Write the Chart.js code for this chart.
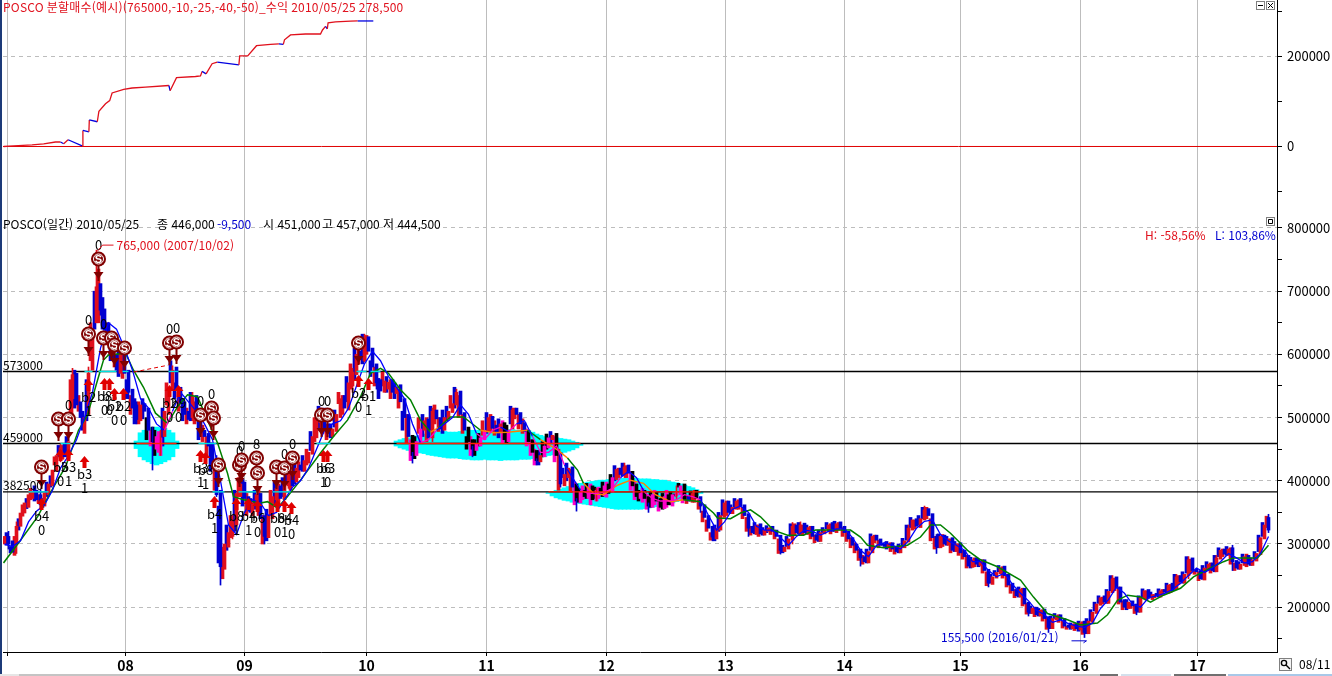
<!DOCTYPE html>
<html lang="ko">
<head>
<meta charset="utf-8">
<title>POSCO</title>
<script src="https://cdn.jsdelivr.net/npm/chart.js@4"></script>
<style>
    html, body { margin: 0; padding: 0; background: #fff; overflow: hidden; }
    #wrap { position: relative; width: 1332px; height: 676px; }
    canvas { position: absolute; left: 0; }
    #profit { top: 0; }
    #price { top: 217px; }
    .edge { position: absolute; left: 0; top: 0; width: 2px; height: 676px; background: #1c3a78; }
    .strip { position: absolute; top: 674px; height: 2px; }
</style>
</head>
<body>
<div id="wrap">
    <canvas id="profit" width="1332" height="217"></canvas>
    <canvas id="price" width="1332" height="459"></canvas>
    <div class="edge"></div>
    <div class="strip" style="left:0;width:1100px;background:#c4c4c4"></div>
    <div class="strip" style="left:0;width:19px;background:#e6e6e6"></div>
    <div class="strip" style="left:1100px;width:18px;background:#707070"></div>
    <div class="strip" style="left:1121px;width:50px;background:#d4e0ec"></div>
    <div class="strip" style="left:1174px;width:52px;background:#707070"></div>
    <div class="strip" style="left:1228px;width:104px;background:#a8c8e8"></div>
</div>
<script>
// prices are in thousand won, one candle every 4 px
const opens = [
    300,312,305,300,328,349,358,372,385,378,
    360,378,392,415,436,458,436,530,570,525,
    475,505,575,650,712,672,650,628,600,570,
    605,575,545,520,495,522,515,485,450,440,
    470,505,545,580,548,525,510,500,535,505,
    480,475,458,435,385,260,295,312,330,375,
    398,375,345,362,380,345,310,340,370,392,
    370,392,412,398,425,415,428,442,468,492,
    515,490,470,478,500,535,512,550,568,605,
    590,628,610,585,560,540,545,560,538,552,
    530,505,472,440,460,480,498,468,512,500,
    480,498,508,520,542,508,485,465,448,455,
    465,478,502,488,476,492,462,482,515,508,
    492,480,465,448,430,438,452,465,475,445,
    392,405,422,395,365,385,372,392,368,388,
    376,395,382,402,420,408,425,415,395,372,
    385,375,358,382,372,356,378,360,376,378,
    395,375,366,385,375,362,345,328,308,322,
    342,368,348,355,372,362,348,328,315,332,
    314,320,328,322,314,288,292,306,330,315,
    333,315,328,315,304,316,320,334,318,335,
    328,320,310,300,292,280,270,286,314,308,
    300,294,302,296,286,294,303,322,340,326,
    338,356,348,312,294,314,298,310,288,302,
    290,282,263,278,266,275,260,236,246,253,
    265,252,238,228,216,230,208,190,200,186,
    197,185,166,180,188,182,172,166,174,164,
    178,158,176,190,203,218,206,223,248,232,
    212,198,210,205,192,213,228,212,222,216,
    228,222,238,228,250,238,250,278,260,258,
    243,260,270,256,276,292,282,294,274,260,
    266,282,266,273,283,308,342
]
const closes = [
    312,300,287,328,349,365,378,382,370,362,
    381,395,417,440,452,438,462,568,520,500,
    500,570,640,707,670,638,620,595,575,602,
    570,540,515,497,520,510,480,462,470,468,
    510,548,575,545,522,505,497,533,500,476,
    470,455,430,378,264,300,318,335,380,395,
    372,358,365,378,340,312,345,375,388,372,
    398,410,392,420,417,432,445,470,497,510,
    483,475,482,505,530,515,555,572,600,592,
    623,605,580,555,542,558,556,540,548,525,
    500,470,440,462,482,495,468,510,498,482,
    500,510,522,540,505,480,462,450,458,468,
    480,500,483,478,490,465,480,512,505,490,
    478,462,445,432,440,455,468,472,440,395,
    410,420,390,368,382,375,390,370,385,378,
    392,380,405,418,410,422,412,392,375,380,
    372,360,378,368,358,375,362,378,382,392,
    370,368,380,372,360,342,325,311,325,345,
    365,350,358,368,360,345,325,318,330,316,
    322,325,320,312,290,295,308,328,318,330,
    318,326,312,306,318,322,330,320,332,325,
    318,308,298,290,278,272,288,312,306,298,
    296,300,292,288,296,305,325,338,328,340,
    354,345,310,296,312,300,308,290,300,286,
    280,265,275,268,272,258,238,248,255,262,
    250,235,226,218,228,205,192,198,188,195,
    182,168,182,186,180,170,168,172,166,175,
    160,178,192,205,215,208,225,245,230,208,
    200,208,202,194,215,226,214,220,218,226,
    224,235,226,248,240,252,275,258,256,245,
    262,268,258,278,290,284,292,272,262,268,
    280,268,275,285,310,330,322
]

// the sessions that fall between two of the candles above
const midOpens = [
    318,296,282,340,344,372,370,392,365,372,
    398,408,425,456,434,470,500,575,510,510,
    560,590,700,650,690,615,630,580,612,562,
    560,505,530,490,530,500,455,480,445,515,
    520,590,555,510,530,490,540,490,510,462,
    440,460,385,360,245,330,310,385,375,402,
    345,372,385,345,300,355,345,398,365,405,
    420,385,428,405,440,425,478,462,518,475,
    465,490,512,522,505,565,545,610,585,632,
    600,590,550,562,550,565,530,555,515,510,
    460,432,470,475,505,462,518,490,478,512,
    518,515,548,500,475,470,440,465,475,472,
    508,478,472,498,460,488,518,498,482,475,
    455,440,425,448,462,474,478,430,385,420,
    428,382,362,388,370,396,362,390,372,398,
    374,410,424,405,428,405,385,370,385,366,
    355,383,362,352,380,358,383,378,396,365,
    364,384,366,355,335,320,306,330,350,370,
    345,362,372,355,340,320,314,334,312,326,
    329,315,308,285,298,312,332,314,334,314,
    330,308,302,322,326,334,316,336,322,312,
    304,294,286,274,268,292,316,302,294,300,
    304,288,284,300,309,330,342,324,345,358,
    340,305,292,316,296,312,286,304,282,276,
    262,279,264,276,254,234,252,258,266,246,
    232,222,215,232,202,189,202,185,198,178,
    165,186,190,176,167,165,175,163,178,157,
    182,196,208,218,205,228,250,226,205,196,
    212,198,190,218,229,211,224,215,229,220,
    238,223,252,236,256,280,254,252,242,266,
    272,254,282,294,280,296,268,258,272,284,
    264,278,288,314,334,326
]
const midCloses = [
    298,286,312,322,362,356,388,368,378,358,
    375,390,438,438,456,438,560,515,535,480,
    495,650,640,735,640,650,590,600,565,610,
    530,535,490,525,498,465,480,440,478,455,
    555,555,530,540,495,515,495,525,465,488,
    470,415,425,270,295,290,345,320,405,360,
    380,350,355,390,345,305,385,360,395,375,
    395,415,395,430,415,450,448,500,480,505,
    490,468,485,540,535,525,585,560,615,585,
    630,565,580,530,572,540,560,530,545,480,
    505,465,435,500,470,500,480,520,500,475,
    495,535,515,535,505,450,470,440,455,495,
    475,505,495,468,495,460,490,515,505,498,
    482,465,450,425,438,450,460,470,450,405,
    400,418,398,366,392,372,395,372,390,375,
    398,382,400,420,408,424,415,398,368,388,
    378,358,385,370,355,385,362,376,390,385,
    376,368,385,370,352,338,318,305,320,345,
    368,348,356,370,358,342,328,316,330,314,
    318,326,322,308,286,296,312,332,316,330,
    316,328,314,304,318,324,332,320,334,326,
    320,310,302,292,282,270,290,314,306,298,
    292,302,296,286,296,306,326,338,330,340,
    358,340,312,294,315,298,308,288,300,290,
    282,262,278,264,275,256,238,250,256,264,
    252,236,228,216,230,206,190,200,186,196,
    184,166,182,188,178,170,165,174,162,177,
    158,178,194,206,216,206,226,246,232,210,
    196,206,204,192,216,226,216,220,216,228,
    222,236,228,250,238,254,276,258,256,244,
    260,270,256,280,292,282,294,270,260,270,
    284,266,276,288,312,344
]

// only the candles with a wick long enough to see
const wickIdx =  [1,3,9,14,17,21,23,24,27,31,33,37,39,42,47,53,54,57,61,65,68,71,79,87,90,93,102,107,113,117,127,133,139,143,148,155,161,168,174,177,186,194,197,199,214,226,230,233,246,256,261,270,277,283,293,296,303,307,316]
const wickHigh = [320,335,386,458,578,580,765,680,600,548,525,485,480,582,540,440,330,345,372,322,395,415,515,578,632,560,445,515,545,455,515,435,445,372,388,428,365,392,365,318,332,298,334,335,280,330,360,315,242,196,170,164,250,198,252,280,282,298,347]
const wickLow =  [292,285,355,430,500,560,700,662,590,530,490,417,440,570,495,375,235,308,352,300,365,388,478,540,588,545,428,462,535,438,495,425,390,352,368,405,350,372,350,305,312,284,300,322,265,318,340,285,232,186,160,152,225,188,240,245,262,258,318]

// short and long moving averages, the short one has a value every 2 candles
const maShort = [
    300,296,305,335,352,362,385,420,440,465,500,540,610,650,640,610,575,530,515,490,
    480,510,540,525,510,490,465,400,330,315,350,370,365,345,350,370,390,400,420,450,
    480,490,495,515,550,585,605,590,565,548,530,490,460,465,480,490,500,520,505,475,
    465,480,485,478,490,495,470,445,445,455,425,405,385,380,380,382,388,405,415,405,
    382,372,368,368,370,378,375,370,345,322,335,355,360,350,328,322,322,310,298,312,
    322,320,314,320,324,324,310,290,280,298,302,298,292,305,325,336,338,315,305,298,
    290,272,272,258,248,254,236,222,210,195,188,176,180,174,170,168,175,198,212,232,
    222,205,200,215,218,222,228,238,250,262,255,262,272,285,278,270,272,285,312
]
const maLongIdx = [
    -0.25,4,8.25,12.25,15.25,18.5,20.75,23.25,24.75,26,
    30.25,32.25,34.75,37.75,40.75,43.25,45.75,48.25,50.75,53.25,
    55.75,57.25,59.75,64,65.75,68.25,70.75,74,79,82.25,
    85.75,89,91.5,94,96,99,101.5,104,106.5,108.5,
    111.5,114.75,119,122.25,125.75,130.75,134,138.25,140.75,143.25,
    144.75,147.25,149.75,153.25,156.5,159.75,162.75,166.5,169.75,174,
    177.25,178.25,181.5,184,186.5,189,192.25,195.75,199.75,202.75,
    211.5,214,215.75,219.75,225.75,229,231.5,234,236.5,240.75,
    244,248.25,254,257.25,260.75,265.75,269,273.25,275.75,278.25,
    280.75,284,286.5,289.75,294,297.25,301.5,304.75,307.25,310.75,
    313.25,316
]
const maLong = [
    270,306,343,390,422,480,504,559,591,599,
    602,575,548,507,491,517,536,533,496,460,
    412,375,370,365,367,357,375,401,444,470,
    496,533,570,578,570,544,528,496,477,484,
    501,501,480,476,477,480,465,449,436,417,
    396,380,378,393,401,396,378,367,370,367,
    349,341,340,349,354,343,322,314,314,322,
    322,311,298,294,298,311,330,330,317,290,
    275,264,243,216,190,180,172,175,188,211,
    219,216,208,219,230,248,262,272,278,278,
    278,298
]

// cyan bands, one value per candle from the first index
const zoneStart = [33, 98, 136]
const zonePrice = [459, 459, 382.5]
const zoneHigh = [
    [463,476,480,483,484,485,484,483,480,476,463],
    [463,465,467,468,470,471,472,474,476,477,478,478,478,477,477,477,478,479,480,480,480,480,480,480,480,480,480,480,481,481,480,480,480,479,477,474,472,470,469,468,468,467,466,465,463,461,459],
    [381,383,385,387,389,391,393,394,396,397,398,399,400,401,401,402,403,404,404,404,404,404,404,403,403,403,402,402,401,401,399,398,397,395,393,391,389,386,382]
]
const zoneLow = [
    [451,438,433,430,427,425,427,430,433,438,451],
    [455,452,450,448,446,445,444,443,441,440,439,438,437,436,436,436,435,434,434,433,433,433,434,433,433,433,432,433,433,433,433,434,434,434,435,436,437,438,440,441,442,443,445,447,449,452,456],
    [380,376,373,371,369,368,366,365,364,363,362,361,360,359,358,357,356,355,355,355,355,355,355,355,356,357,358,359,360,361,363,365,367,369,371,373,375,377,380]
]

const levelPrices = [573, 459, 382.5]
const levelLabels = ['573000', '459000', '382500']

// little cyan pieces where the price touched a level
const touchFrom =  [6,14,20,23.5,29.5,41,48.5,52,58.5,67,78,88,91.5]
const touchTo =    [11,16.5,22,28,31,43.5,53,55,63.5,71.5,81.5,90.5,94]
const touchPrice = [382.5,459,573,573,573,573,459,382.5,382.5,382.5,459,573,573]

const sellIdx =   [23.25,9,13.25,15.75,20.75,24.5,26.5,27.25,29.75,41,42.75,49,51.5,52,53.25,58.5,59,62.75,63,67.75,69.75,71.75,79,80.5,88.25]
const sellPrice = [751,422,498,498,632,626,626,615,610,618,620,504,515,499,425,425,433,436,412,422,420,436,504,504,618]
const sellCount = ['0','','','0','0','0','','','','0','0','0','0','','','0','0','8','','','0','0','0','0','']

const buyIdx =   [9,13.75,15.75,19.75,20.75,24.75,26,27.25,29.5,41,43.25,49,50,52.25,57.75,60.75,63,68,69.75,71.5,79.5,80.75,88.25,90.75]
const buyPrice = [373,450,450,439,561,563,563,547,547,552,552,449,446,376,373,373,370,370,370,366,449,449,567,563]
const buyLabel = ['b4','b3','b3','b3','b2','b8','b3','b2','b2','b2','b9','b3','b8','b4','b8','b4','b6','b8','b4','b4','b6','b3','b2','b1']
const buyCount = ['0','0','1','1','1','0','0','0','0','0','0','1','1','1','1','1','0','0','1','0','1','0','0','1']

// realised profit panel
const profitIdx = [-0.2,2.3,6.9,9.8,12.75,14,14.8,15.9,19.4,19.6,21.1,21.2,23.2,23.6,25.25,26.3,26.9,29.8,31.9,35.25,41.1,41.4,43,47.75,49,49.4,50.4,51.9,53.2,58.6,58.8,60.8,63,66.5,68.6,69.7,70,71.5,75.25,79,79.5,80.25,80.7,80.9,82.75,86.5,88.3,92.2]
const profitVal = [0,1.5,3.7,6,10,10,6,15,1.5,35.6,32.6,59,55,78,95,102,119,127,130,132,135.6,124,153,155.6,157,167,161.5,184,187.4,181.5,201.5,201.5,224,227,228,227,237,248,250,250,259,267,261.5,275,277,278.5,279,279]

const yearTicks = [0.75,30.25,60,90.5,120.5,150.5,180.25,210,239,269,298.25]
const yearLabels = ['','08','09','10','11','12','13','14','15','16','17']
const priceTicks = [800,750,700,650,600,550,500,450,400,350,300,250,200,150]
const profitTicks = [300,200,100,0,-100]

const FONT = '"Liberation Sans Narrow", "Noto Sans CJK KR", sans-serif'
const RED = '#e0101c'
const BLUE = '#0000d0'
const MAROON = '#800000'
const X_MIN = -0.375
const X_MAX = 318.125

function zoneAt(idx, price) {
    for (let z = 0; z < zoneStart.length; z++) {
        const k = Math.round(idx - zoneStart[z])
        if (k >= 0 && k < zoneHigh[z].length && price <= zoneHigh[z][k] && price >= zoneLow[z][k]) {
            return true
        }
    }
    return false
}

function candleColor(idx, open, close) {
    const inZone = zoneAt(idx, (open + close) / 2)
    if (close >= open) {
        return inZone ? '#ff00c8' : RED
    }
    return inZone ? '#000000' : BLUE
}

function xScale(extra) {
    return {
        type: 'linear',
        min: X_MIN,
        max: X_MAX,
        offset: false,
        afterBuildTicks: (scale) => {
            scale.ticks = yearTicks.map((v) => ({ value: v }))
        },
        grid: { offset: false, color: '#bdbdbd', lineWidth: 1, tickColor: '#000', tickLength: 4 },
        ...extra
    }
}

function yScale(min, max, tickValues, isLabelled, isGrid) {
    return {
        position: 'right',
        min,
        max,
        afterBuildTicks: (scale) => {
            scale.ticks = tickValues.map((v) => ({ value: v }))
        },
        afterFit: (scale) => {
            scale.width = 55
            scale.paddingTop = 0
            scale.paddingBottom = 0
        },
        border: { color: '#000', width: 1, dash: [4, 4] },
        grid: {
            color: (ctx) => (isGrid(ctx.tick.value) ? '#bdbdbd' : 'rgba(0,0,0,0)'),
            tickColor: '#000',
            tickLength: 5,
            tickBorderDash: [],
            lineWidth: 1
        },
        ticks: {
            autoSkip: false,
            padding: 5,
            color: '#000',
            font: { family: FONT, size: 13 },
            callback: (v) => (isLabelled(v) ? String(v * 1000) : '')
        }
    }
}

function text(ctx, str, x, y, color, align, font) {
    ctx.fillStyle = color
    ctx.textAlign = align || 'left'
    ctx.textBaseline = 'middle'
    ctx.font = font || '12px ' + FONT
    ctx.fillText(str, x, y)
}

function smallButton(ctx, x, y, kind) {
    ctx.strokeStyle = '#808080'
    ctx.lineWidth = 1
    ctx.fillStyle = '#fff'
    ctx.fillRect(x, y, 9, 9)
    ctx.strokeRect(x + 0.5, y + 0.5, 8, 8)
    ctx.strokeStyle = '#000'
    ctx.beginPath()
    if (kind === 'min') {
        ctx.moveTo(x + 2, y + 4.5)
        ctx.lineTo(x + 7, y + 4.5)
    } else if (kind === 'close') {
        ctx.moveTo(x + 2, y + 2)
        ctx.lineTo(x + 7, y + 7)
        ctx.moveTo(x + 7, y + 2)
        ctx.lineTo(x + 2, y + 7)
    } else {
        ctx.rect(x + 2.5, y + 2.5, 4, 4)
    }
    ctx.stroke()
}

const profitText = {
    id: 'profitText',
    afterDraw(chart) {
        const ctx = chart.ctx
        ctx.save()
        ctx.letterSpacing = '0.2px'
        text(ctx, 'POSCO 분할매수(예시)(765000,-10,-25,-40,-50)_수익 2010/05/25 278,500', 3, 7, RED)
        ctx.letterSpacing = '0px'
        smallButton(ctx, 1256, 1, 'min')
        smallButton(ctx, 1266, 1, 'close')
        ctx.restore()
    }
}

const priceMarks = {
    id: 'priceMarks',
    afterDatasetsDraw(chart) {
        const ctx = chart.ctx
        const xs = chart.scales.x
        const ys = chart.scales.y
        ctx.save()

        buyIdx.forEach((idx, k) => {
            const x = Math.round(xs.getPixelForValue(idx)) + 0.5
            const y = Math.round(ys.getPixelForValue(buyPrice[k]))
            ctx.fillStyle = '#e00000'
            ctx.beginPath()
            ctx.moveTo(x, y)
            ctx.lineTo(x + 5, y + 6)
            ctx.lineTo(x + 2, y + 6)
            ctx.lineTo(x + 2, y + 12)
            ctx.lineTo(x - 2, y + 12)
            ctx.lineTo(x - 2, y + 6)
            ctx.lineTo(x - 5, y + 6)
            ctx.closePath()
            ctx.fill()
            text(ctx, buyLabel[k], x, y + 18, '#000', 'center', '13px ' + FONT)
            text(ctx, buyCount[k], x, y + 32, '#000', 'center', '13px ' + FONT)
        })

        sellIdx.forEach((idx, k) => {
            const x = Math.round(xs.getPixelForValue(idx)) + 0.5
            const y = Math.round(ys.getPixelForValue(sellPrice[k]))
            ctx.fillStyle = MAROON
            ctx.fillRect(x - 1, y, 2, 22)
            ctx.beginPath()
            ctx.moveTo(x - 5, y + 13)
            ctx.lineTo(x + 5, y + 13)
            ctx.lineTo(x, y + 20)
            ctx.closePath()
            ctx.fill()
            ctx.beginPath()
            ctx.arc(x, y, 7.5, 0, Math.PI * 2)
            ctx.fill()
            ctx.strokeStyle = '#fff'
            ctx.lineWidth = 1
            ctx.beginPath()
            ctx.arc(x, y, 5, 0, Math.PI * 2)
            ctx.stroke()
            text(ctx, 'S', x, y + 0.5, '#fff', 'center', 'bold 11px "Liberation Sans", sans-serif')
            text(ctx, sellCount[k], x, y - 14, '#000', 'center', '13px ' + FONT)
        })

        // high and low call-outs
        const hx = xs.getPixelForValue(23.25)
        const hy = ys.getPixelForValue(765)
        ctx.strokeStyle = RED
        ctx.lineWidth = 1
        ctx.beginPath()
        ctx.moveTo(hx, hy + 1)
        ctx.lineTo(hx + 5, hy - 5)
        ctx.lineTo(hx + 16, hy - 5)
        ctx.stroke()
        text(ctx, '765,000 (2007/10/02)', hx + 19, hy - 5, RED)

        const lx = xs.getPixelForValue(269.75)
        const ly = ys.getPixelForValue(155.5) + 5.5
        ctx.strokeStyle = BLUE
        ctx.beginPath()
        ctx.moveTo(lx - 12, ly)
        ctx.lineTo(lx + 3, ly)
        ctx.lineTo(lx, ly + 2)
        ctx.stroke()
        text(ctx, '155,500 (2016/01/21)', lx - 25, ly - 3, BLUE, 'right')

        levelPrices.forEach((p, k) => {
            text(ctx, levelLabels[k], 3, ys.getPixelForValue(p) - 6, '#000')
        })
        ctx.restore()
    },
    afterDraw(chart) {
        const ctx = chart.ctx
        ctx.save()
        const pieces = [
            ['POSCO(일간) 2010/05/25', 3, '#000'],
            ['종 446,000', 157, '#000'],
            ['-9,500', 217, BLUE],
            ['시 451,000', 263, '#000'],
            ['고 457,000', 322, '#000'],
            ['저 444,500', 383, '#000']
        ]
        pieces.forEach((p) => text(ctx, p[0], p[1], 7, p[2]))
        text(ctx, 'H: -58,56%', 1145, 18, RED)
        text(ctx, 'L: 103,86%', 1215, 18, BLUE)
        smallButton(ctx, 1266, 0, 'restore')

        // zoom button and date at the bottom right
        ctx.strokeStyle = '#808080'
        ctx.fillStyle = '#f4f4f4'
        ctx.fillRect(1279.5, 441.5, 12, 12)
        ctx.strokeRect(1279.5, 441.5, 12, 12)
        ctx.strokeStyle = '#000'
        ctx.lineWidth = 1.4
        ctx.beginPath()
        ctx.arc(1284, 446, 2.6, 0, Math.PI * 2)
        ctx.moveTo(1286, 448)
        ctx.lineTo(1290, 452)
        ctx.stroke()
        text(ctx, '08/11', 1299, 447, '#000')
        ctx.restore()
    }
}

// profit panel
new Chart(document.getElementById('profit'), {
    type: 'line',
    data: {
        datasets: [
            {
                label: 'zero',
                data: [{ x: X_MIN, y: 0 }, { x: X_MAX, y: 0 }],
                borderColor: '#e00000',
                borderWidth: 1,
                pointRadius: 0,
                order: 2
            },
            {
                label: 'profit',
                data: profitIdx.map((x, k) => ({ x, y: profitVal[k] })),
                borderWidth: 1.3,
                pointRadius: 0,
                borderColor: RED,
                segment: {
                    borderColor: (ctx) => (ctx.p1.parsed.y < ctx.p0.parsed.y || ctx.p1.parsed.y === ctx.p0.parsed.y && ctx.p0.parsed.x > 85 ? '#0000e0' : RED)
                },
                order: 1
            }
        ]
    },
    options: {
        responsive: false,
        animation: false,
        devicePixelRatio: 1,
        layout: { padding: { left: 3 } },
        plugins: { legend: { display: false }, tooltip: { enabled: false } },
        scales: {
            x: xScale({
                afterFit: (scale) => { scale.height = 0 },
                border: { color: '#000', width: 1 },
                ticks: { display: false },
                grid: { offset: false, color: '#bdbdbd', lineWidth: 1, drawTicks: false, tickLength: 0 }
            }),
            y: yScale(-156.7, 325.6, profitTicks, (v) => v === 200 || v === 0, (v) => v === 200)
        }
    },
    plugins: [profitText]
})

// price panel
const candleData = opens.map((o, i) => ({ x: i, y: [o, closes[i]] }))
const candleColors = opens.map((o, i) => candleColor(i, o, closes[i]))
const midData = midOpens.map((o, i) => ({ x: i + 0.5, y: [o, midCloses[i]] }))
const midColors = midOpens.map((o, i) => candleColor(i + 0.5, o, midCloses[i]))

const zoneData = []
zoneStart.forEach((start, z) => {
    zoneHigh[z].forEach((hi, k) => {
        zoneData.push({ x: start + k, y: [zoneLow[z][k], hi] })
    })
})

const levelData = levelPrices.map((p) => ({
    type: 'line',
    label: 'level ' + p,
    data: [{ x: X_MIN, y: p }, { x: X_MAX, y: p }],
    borderColor: '#000',
    borderWidth: 1.4,
    pointRadius: 0,
    order: 9
}))

const zoneLines = zoneStart.map((start, z) => ({
    type: 'line',
    label: 'zone line ' + z,
    data: [{ x: start, y: zonePrice[z] }, { x: start + zoneHigh[z].length - 1, y: zonePrice[z] }],
    borderColor: '#ff2000',
    borderWidth: 1.4,
    pointRadius: 0,
    order: 2
}))

const touchLines = touchFrom.map((from, k) => ({
    type: 'line',
    label: 'touch ' + k,
    data: [{ x: from, y: touchPrice[k] }, { x: touchTo[k], y: touchPrice[k] }],
    borderColor: '#00e0e0',
    borderWidth: 1.4,
    pointRadius: 0,
    order: 2
}))

new Chart(document.getElementById('price'), {
    type: 'bar',
    data: {
        datasets: [
            {
                label: 'zones',
                data: zoneData,
                backgroundColor: '#00ffff',
                barThickness: 5,
                grouped: false,
                order: 10
            },
            ...levelData,
            {
                label: 'wicks',
                data: wickIdx.map((x, k) => ({ x, y: [wickLow[k], wickHigh[k]] })),
                backgroundColor: wickIdx.map((x, k) => (closes[x] >= opens[x] ? RED : BLUE)),
                barThickness: 1,
                grouped: false,
                order: 4.5
            },
            {
                label: 'candles between',
                data: midData,
                backgroundColor: midColors,
                barThickness: 3,
                minBarLength: 2,
                grouped: false,
                order: 5.5
            },
            {
                label: 'candles',
                data: candleData,
                backgroundColor: candleColors,
                barThickness: 3,
                minBarLength: 2,
                grouped: false,
                order: 5
            },
            {
                type: 'line',
                label: 'long average',
                data: maLongIdx.map((x, k) => ({ x, y: maLong[k] })),
                borderWidth: 1.5,
                pointRadius: 0,
                borderColor: '#008000',
                segment: {
                    borderColor: (ctx) => (zoneAt(ctx.p0.parsed.x, ctx.p0.parsed.y) ? '#ff8000' : '#008000')
                },
                order: 4
            },
            {
                type: 'line',
                label: 'short average',
                data: maShort.map((y, k) => ({ x: k * 2, y })),
                borderWidth: 1.3,
                pointRadius: 0,
                borderColor: '#0000ff',
                segment: {
                    borderColor: (ctx) => (zoneAt(ctx.p0.parsed.x, ctx.p0.parsed.y) ? '#ff00c8' : '#0000ff')
                },
                order: 3
            },
            {
                type: 'line',
                label: 'trade link',
                data: [{ x: 32.25, y: 572 }, { x: 41, y: 583 }],
                borderColor: '#e00000',
                borderWidth: 1,
                borderDash: [4, 3],
                pointRadius: 0,
                order: 2
            },
            ...zoneLines,
            ...touchLines
        ]
    },
    options: {
        responsive: false,
        animation: false,
        devicePixelRatio: 1,
        layout: { padding: { left: 3 } },
        plugins: { legend: { display: false }, tooltip: { enabled: false } },
        scales: {
            x: xScale({
                afterFit: (scale) => { scale.height = 24 },
                border: { color: '#000', width: 1 },
                ticks: {
                    autoSkip: false,
                    maxRotation: 0,
                    padding: 1,
                    color: '#000',
                    font: { family: FONT, size: 14, weight: 'bold' },
                    callback: (v) => yearLabels[yearTicks.indexOf(v)]
                }
            }),
            y: yScale(129.1, 817.4, priceTicks, (v) => v % 100 === 0, (v) => v % 100 === 0)
        }
    },
    plugins: [priceMarks]
})
</script>
</body>
</html>
